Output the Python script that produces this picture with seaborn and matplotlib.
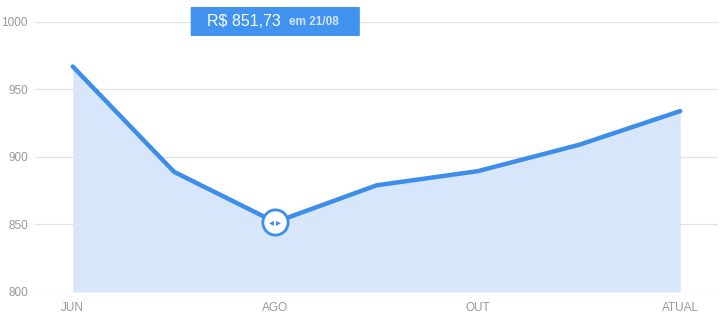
import pandas as pd
import seaborn as sns
import matplotlib.pyplot as plt
from matplotlib.patches import FancyBboxPatch

# chart data
labels = ['JUN', '', 'AGO', '', 'OUT', '', 'ATUAL']
values = [967, 889, 851.73, 879, 889.5, 909, 934]
y_ticks = [800, 850, 900, 950, 1000]
tick_pos = [0, 2, 4, 6]
tick_labels = ['JUN', 'AGO', 'OUT', 'ATUAL']
sel_idx = 2
sel_price = 'R$ 851,73'
sel_date = 'em 21/08'

LINE = '#3d8ee9'
FILL = '#d7e6fb'
GREY = '#999999'

sns.set_style('white')
plt.rcParams['font.family'] = ['Liberation Sans', 'DejaVu Sans']

df = pd.DataFrame({'idx': range(len(values)), 'value': values})

fig = plt.figure(figsize=(7.25, 3.23), dpi=100)
ax = fig.add_axes([0.048, 0.096, 0.942, 0.836])

ax.fill_between(df['idx'], 800, df['value'], color=FILL, lw=0, zorder=1)
for y in y_ticks:
    ax.axhline(y, color='#e3e3e3', lw=0.9, zorder=0.5)
sns.lineplot(data=df, x='idx', y='value', ax=ax, color=LINE, lw=3.2,
             solid_capstyle='round', zorder=3)

# selected point marker
ax.scatter([sel_idx], [values[sel_idx]], s=330, facecolor='white',
           edgecolor=LINE, linewidth=2, zorder=4)
ax.text(sel_idx - 0.035, values[sel_idx], '\u25c2', color=LINE, fontsize=7,
        ha='center', va='center', family=['DejaVu Sans'], zorder=5)
ax.text(sel_idx + 0.035, values[sel_idx], '\u25b8', color=LINE, fontsize=7,
        ha='center', va='center', family=['DejaVu Sans'], zorder=5)

ax.set_xlim(-0.375, 6.37)
ax.set_ylim(800, 1000)
ax.set_yticks(y_ticks)
ax.set_yticklabels([str(v) for v in y_ticks])
ax.set_xticks(tick_pos)
ax.set_xticklabels(tick_labels)
ax.tick_params(axis='both', colors=GREY, labelsize=8.5, length=0)
ax.tick_params(axis='y', pad=5)
ax.tick_params(axis='x', pad=7)
ax.set_xlabel('')
ax.set_ylabel('')
for s in ax.spines.values():
    s.set_visible(False)

# tooltip box
box = FancyBboxPatch((sel_idx - 0.835, 989.6), 1.67, 21.5,
                     boxstyle='round,pad=0,rounding_size=0.02',
                     facecolor='#4193ef', edgecolor='none',
                     clip_on=False, zorder=6, mutation_aspect=10)
ax.add_patch(box)
ax.text(sel_idx - 0.67, 1000.3, sel_price, color='white', fontsize=11.5,
        ha='left', va='center', clip_on=False, zorder=7)
ax.text(sel_idx + 0.14, 999.8, sel_date, color='#d3e5fc', fontsize=8.5,
        fontweight='semibold', ha='left', va='center', clip_on=False, zorder=7)

fig.savefig('out.png', dpi=100)
plt.close(fig)
